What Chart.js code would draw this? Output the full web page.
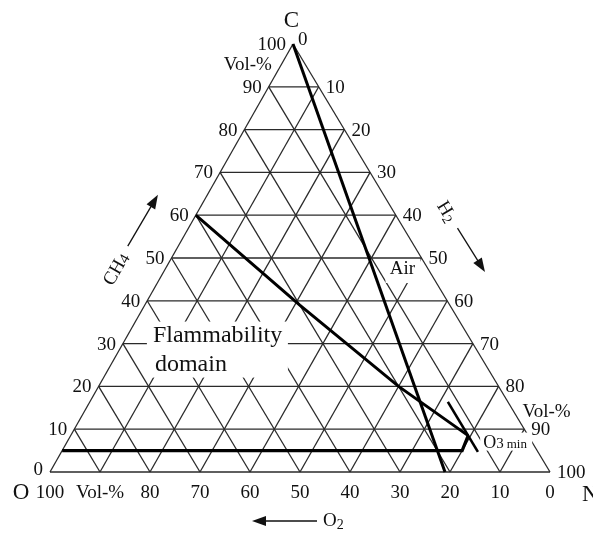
<!DOCTYPE html>
<html>
<head>
<meta charset="utf-8">
<title>Flammability domain</title>
<script src="https://cdn.jsdelivr.net/npm/chart.js@4.4.1/dist/chart.umd.min.js"></script>
<style>
  html, body { margin: 0; padding: 0; background: #fff; }
  #wrap { position: relative; width: 593px; height: 534px; }
</style>
</head>
<body>
<div id="wrap"><canvas id="chart"></canvas></div>
<script>
// Ternary diagram, all values in Vol-%: C on top, O bottom left, N bottom right
const gridLevels = [0, 10, 20, 30, 40, 50, 60, 70, 80, 90];
const leftTicks = ['0', '10', '20', '30', '40', '50', '60', '70', '80', '90', '100'];     // CH4, bottom -> top
const rightTicks = ['0', '10', '20', '30', '40', '50', '60', '70', '80', '90', '100'];    // H2, top -> bottom
const bottomTicks = ['100', 'Vol-%', '80', '70', '60', '50', '40', '30', '20', '10', '0']; // O2, left -> right

// Thick lines, as C content and O content (N is the rest)
const airC = [100, 0];
const airO = [0, 21];
const upperC = [60, 39, 20, 8.5];
const upperO = [40, 30, 20, 12];
const lowerC = [5, 5, 8.5];
const lowerO = [95, 15, 12];
const minO2C = [16.4, 4.7];
const minO2O = [12, 12];

// the printed triangle leans a little to the left
const SHEAR = 0.014;

function toPoint(c, o) {
    const n = 100 - c - o;
    return { x: 0.5 * c + n - SHEAR * c, y: c };
}

function lineSet(cs, os, color, width) {
    return {
        data: cs.map((c, i) => toPoint(c, os[i])),
        showLine: true,
        pointRadius: 0,
        borderColor: color,
        borderWidth: width,
        fill: false,
        tension: 0
    };
}

// first datasets are drawn on top
const datasets = [
    lineSet(airC, airO, '#000', 3),
    lineSet(upperC, upperO, '#000', 3),
    lineSet(lowerC, lowerO, '#000', 3.2),
    lineSet(minO2C, minO2O, '#000', 2.6)
];

const GRID = '#2a2a2a';
gridLevels.forEach(k => {
    // C = k (horizontal)
    datasets.push(lineSet([k, k], [100 - k, 0], GRID, 1.3));
    // N = k (parallel to left side)
    datasets.push(lineSet([0, 100 - k], [100 - k, 0], GRID, 1.3));
    // O = k (parallel to right side)
    datasets.push(lineSet([0, 100 - k], [k, k], GRID, 1.3));
});

const SERIF = '"Liberation Serif", "Times New Roman", serif';

function arrow(ctx, x1, y1, x2, y2) {
    const a = Math.atan2(y2 - y1, x2 - x1);
    const len = 14, half = 5;
    ctx.beginPath();
    ctx.moveTo(x1, y1);
    ctx.lineTo(x2 - Math.cos(a) * len * 0.8, y2 - Math.sin(a) * len * 0.8);
    ctx.lineWidth = 1.3;
    ctx.strokeStyle = '#111';
    ctx.stroke();
    ctx.beginPath();
    ctx.moveTo(x2, y2);
    ctx.lineTo(x2 - Math.cos(a) * len - Math.sin(a) * half, y2 - Math.sin(a) * len + Math.cos(a) * half);
    ctx.lineTo(x2 - Math.cos(a) * len + Math.sin(a) * half, y2 - Math.sin(a) * len - Math.cos(a) * half);
    ctx.closePath();
    ctx.fillStyle = '#111';
    ctx.fill();
}

// text with a smaller index after it, centred on (x, y) and turned by angle
function subText(ctx, main, sub, x, y, angle, size, subSize, drop) {
    ctx.save();
    ctx.translate(x, y);
    ctx.rotate(angle);
    ctx.font = size + 'px ' + SERIF;
    const w1 = ctx.measureText(main).width;
    ctx.font = subSize + 'px ' + SERIF;
    const w2 = ctx.measureText(sub).width;
    const x0 = -(w1 + w2) / 2;
    ctx.textAlign = 'left';
    ctx.textBaseline = 'middle';
    ctx.font = size + 'px ' + SERIF;
    ctx.fillText(main, x0, 0);
    ctx.font = subSize + 'px ' + SERIF;
    ctx.fillText(sub, x0 + w1, drop);
    ctx.restore();
}

const labelPlugin = {
    id: 'ternaryLabels',
    afterDatasetsDraw(chart) {
        const ctx = chart.ctx;
        const xs = chart.scales.x, ys = chart.scales.y;
        const P = (c, o) => {
            const q = toPoint(c, o);
            return { x: xs.getPixelForValue(q.x), y: ys.getPixelForValue(q.y) };
        };

        ctx.save();
        // white patches behind the annotations
        ctx.fillStyle = '#fff';
        const f = P(30, 70);
        ctx.fillRect(f.x + 24, f.y - 22, 141, 56);
        const a = P(50, 0);
        ctx.fillRect(a.x - 36, a.y + 1, 35, 24);
        const m = P(8.5, 12);
        ctx.fillRect(m.x + 12, m.y - 3, 52, 18);

        ctx.fillStyle = '#111';
        ctx.textBaseline = 'middle';
        ctx.font = '19px ' + SERIF;

        // CH4 axis on the left side
        ctx.textAlign = 'right';
        leftTicks.forEach((t, i) => {
            const c = i * 10;
            const p = P(c, 100 - c);
            ctx.fillText(t, p.x - 7, p.y + (i === 0 ? -2 : 1));
        });
        const vl = P(95, 5);
        ctx.fillText('Vol-%', vl.x - 9, vl.y);

        // H2 axis on the right side
        ctx.textAlign = 'left';
        rightTicks.forEach((t, i) => {
            const c = 100 - i * 10;
            const p = P(c, 0);
            ctx.fillText(t, p.x + (i === 0 ? 5 : 7), p.y + (i === 0 ? -4 : 1));
        });
        const vr = P(15, 0);
        ctx.fillText('Vol-%', vr.x + 11, vr.y + 4);

        // O2 axis along the base
        ctx.textAlign = 'center';
        bottomTicks.forEach((t, i) => {
            const p = P(0, 100 - i * 10);
            ctx.fillText(t, p.x, p.y + 21);
        });

        // corners
        ctx.font = '23px ' + SERIF;
        const top = P(100, 0);
        ctx.fillText('C', top.x - 1.5, top.y - 23);
        const bl = P(0, 100);
        ctx.fillText('O', bl.x - 29, bl.y + 21);
        const br = P(0, 0);
        ctx.textAlign = 'left';
        ctx.fillText('N', br.x + 32, br.y + 23);

        // annotations
        ctx.font = '24px ' + SERIF;
        ctx.fillText('Flammability', f.x + 30, f.y - 8);
        ctx.fillText('domain', f.x + 32, f.y + 21);
        ctx.font = '19px ' + SERIF;
        ctx.textAlign = 'center';
        ctx.fillText('Air', a.x - 19, a.y + 11);

        ctx.textAlign = 'left';
        ctx.textBaseline = 'alphabetic';
        ctx.font = '18px ' + SERIF;
        ctx.fillText('O', m.x + 15, m.y + 12);
        const wO = ctx.measureText('O').width;
        ctx.font = '15px ' + SERIF;
        ctx.fillText('3', m.x + 15 + wO, m.y + 12);
        const w3 = ctx.measureText('3').width;
        ctx.font = '13px ' + SERIF;
        ctx.fillText('min', m.x + 15 + wO + w3 + 3, m.y + 12);

        // component names with arrows
        const l1 = P(53, 47), l2 = P(65, 35);
        arrow(ctx, l1.x - 51, l1.y + 1, l2.x - 50, l2.y + 1);
        const lc = P(48, 52);
        subText(ctx, 'CH', '4', lc.x - 50, lc.y + 3, -Math.atan2(428, 243), 19, 15, 2);

        const r1 = P(57, 0), r2 = P(46.7, 0);
        arrow(ctx, r1.x + 54, r1.y, r2.x + 55, r2.y);
        const rc = P(61, 0);
        subText(ctx, 'H', '2', rc.x + 53, rc.y + 1, Math.atan2(428, 257), 19, 14, 4);

        const b = P(0, 50);
        arrow(ctx, b.x + 17, b.y + 49, b.x - 48, b.y + 49);
        ctx.textBaseline = 'middle';
        ctx.font = '19px ' + SERIF;
        ctx.fillText('O', b.x + 23, b.y + 49);
        const wO2 = ctx.measureText('O').width;
        ctx.font = '14px ' + SERIF;
        ctx.fillText('2', b.x + 23 + wO2, b.y + 53);

        ctx.restore();
    }
};

new Chart(document.getElementById('chart'), {
    type: 'scatter',
    data: { datasets },
    options: {
        responsive: true,
        maintainAspectRatio: false,
        animation: false,
        events: [],
        layout: { padding: 0 },
        plugins: {
            legend: { display: false },
            tooltip: { enabled: false }
        },
        scales: {
            x: { type: 'linear', min: -10, max: 108.6, display: false },
            y: { type: 'linear', min: -14.49, max: 110.28, display: false }
        }
    },
    plugins: [labelPlugin]
});
</script>
</body>
</html>
